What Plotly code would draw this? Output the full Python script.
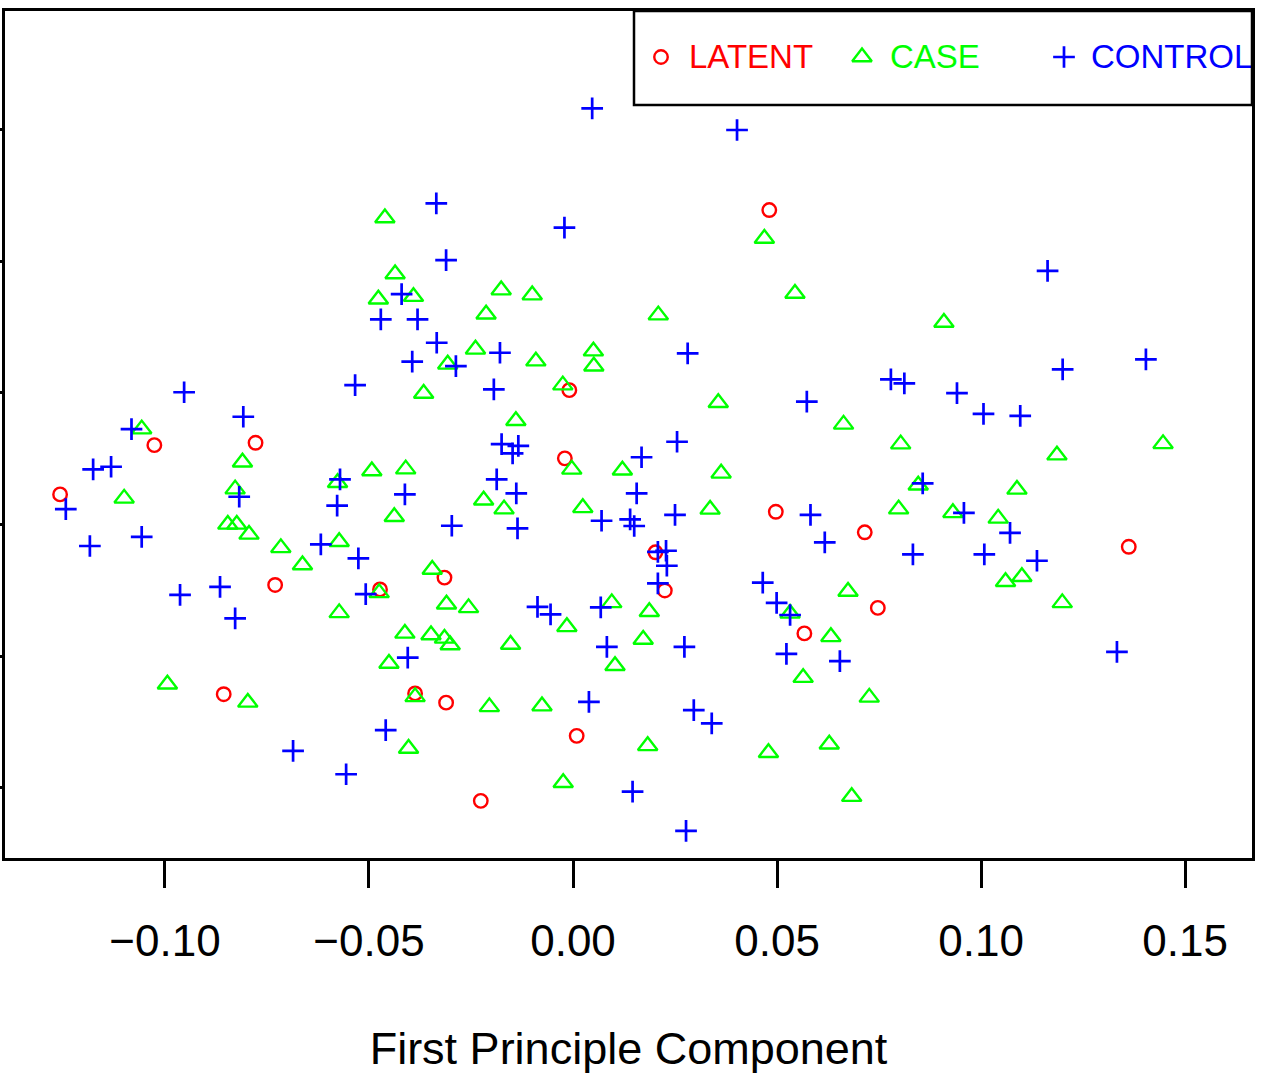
import plotly.graph_objects as go

# ---------------- data (first / second principal component) ----------------
latent_x = [0.0481, -0.0009, -0.1026, -0.0778, -0.1257, -0.0020, 0.0497, 0.0715,
            0.1362, 0.0202, -0.0315, -0.0473, -0.0730, 0.0225, 0.0567, 0.0747,
            -0.0856, -0.0387, -0.0311, 0.0009, -0.0226, -0.0311]
latent_y = [0.0694, 0.0010, -0.0199, -0.0190, -0.0386, -0.0249, -0.0452, -0.0530,
            -0.0585, -0.0606, -0.0702, -0.0747, -0.0730, -0.0751, -0.0914, -0.0817,
            -0.1145, -0.1142, -0.1177, -0.1303, -0.1550, -0.1798]

case_x = [-0.0461, -0.0436, -0.0477, -0.0391, -0.0176, -0.0100, 0.0469, 0.0544,
          -0.0213, 0.0209, -0.0239, -0.0307, -0.0091, 0.0050, 0.0051, -0.0366,
          -0.0025, 0.0356, 0.0663, -0.0140, 0.0909, -0.1057, -0.0810, -0.1100,
          -0.0828, -0.0577, -0.0493, -0.0410, -0.0438, -0.0846, -0.0824, -0.0794,
          -0.0716, -0.0663, -0.0573, -0.0345, -0.0003, 0.0121, 0.0363, -0.0219,
          -0.0169, 0.0024, 0.0336, 0.0803, 0.1186, 0.1446, 0.0846, 0.1088,
          0.0798, 0.0931, 0.1042, 0.1060, 0.1100, 0.0674, 0.1199, -0.0475,
          -0.0573, -0.0412, -0.0348, -0.0315, -0.0301, -0.0451, -0.0310, -0.0256,
          0.0095, 0.0187, -0.0015, -0.0153, 0.0172, 0.0103, 0.0532, 0.0632,
          0.0564, 0.0726, -0.0994, -0.0797, -0.0387, -0.0205, -0.0076, -0.0403,
          0.0183, 0.0479, 0.0628, -0.0024, 0.0683]
case_y = [0.0664, 0.0451, 0.0355, 0.0365, 0.0390, 0.0371, 0.0586, 0.0377,
          0.0298, 0.0295, 0.0165, 0.0108, 0.0120, 0.0158, 0.0101, -0.0003,
          0.0029, -0.0038, -0.0120, -0.0106, 0.0267, -0.0138, -0.0264, -0.0401,
          -0.0366, -0.0342, -0.0297, -0.0290, -0.0471, -0.0500, -0.0500, -0.0538,
          -0.0589, -0.0654, -0.0566, -0.0671, -0.0291, -0.0294, -0.0306, -0.0408,
          -0.0442, -0.0437, -0.0443, -0.0195, -0.0237, -0.0194, -0.0351, -0.0367,
          -0.0442, -0.0456, -0.0477, -0.0718, -0.0699, -0.0755, -0.0798, -0.0760,
          -0.0836, -0.0914, -0.0920, -0.0933, -0.0958, -0.1028, -0.0803, -0.0817,
          -0.0798, -0.0832, -0.0889, -0.0956, -0.0937, -0.1037, -0.0838, -0.0927,
          -0.1082, -0.1157, -0.1107, -0.1176, -0.1155, -0.1193, -0.1190, -0.1351,
          -0.1341, -0.1367, -0.1335, -0.1481, -0.1534]

control_x = [0.0047, 0.0402, -0.0335, -0.0021, -0.0311, 0.1163, -0.0420, -0.0471,
             -0.0381, -0.0334, -0.0394, -0.0287, -0.0179, -0.0534, -0.0194, 0.0281,
             -0.0953, -0.0808, -0.1082, -0.1176, -0.1132, -0.1243, -0.0818, -0.0571,
             -0.0578, -0.0412, -0.1184, -0.1057, -0.0618, -0.0526, -0.0963, -0.0865,
             -0.0508, -0.0828, -0.0405, -0.0459, -0.0686, -0.0556, 0.0573, -0.0175,
             -0.0134, -0.0148, 0.0255, 0.0168, -0.0187, -0.0139, 0.0156, -0.0297,
             -0.0136, 0.0070, 0.0140, 0.0150, 0.0250, 0.0582, 0.0617, 0.0208,
             0.0228, 0.0230, 0.0208, 0.0465, 0.0499, 0.0532, 0.0523, 0.0654,
             -0.0087, -0.0055, 0.0068, 0.0083, 0.0273, 0.0039, 0.0296, 0.0340,
             0.0146, 0.0277, 0.0779, 0.0812, 0.1200, 0.1404, 0.0941, 0.1006,
             0.1096, 0.0857, 0.0958, 0.1071, 0.0833, 0.1008, 0.1137, 0.1333]
control_y = [0.1080, 0.0998, 0.0719, 0.0627, 0.0504, 0.0463, 0.0375, 0.0279,
             0.0279, 0.0190, 0.0118, 0.0101, 0.0152, 0.0029, 0.0013, 0.0150,
             0.0002, -0.0091, -0.0138, -0.0291, -0.0281, -0.0442, -0.0395, -0.0329,
             -0.0429, -0.0386, -0.0582, -0.0547, -0.0576, -0.0629, -0.0768, -0.0737,
             -0.0765, -0.0857, -0.1006, -0.1281, -0.1360, -0.1449, -0.0034, -0.0195,
             -0.0202, -0.0230, -0.0186, -0.0245, -0.0329, -0.0382, -0.0382, -0.0505,
             -0.0515, -0.0486, -0.0481, -0.0506, -0.0464, -0.0464, -0.0568, -0.0604,
             -0.0600, -0.0657, -0.0724, -0.0721, -0.0798, -0.0844, -0.0992, -0.1019,
             -0.0813, -0.0842, -0.0815, -0.0965, -0.0965, -0.1174, -0.1205, -0.1256,
             -0.1515, -0.1664, 0.0051, 0.0036, 0.0089, 0.0127, -0.0001, -0.0080,
             -0.0088, -0.0344, -0.0456, -0.0532, -0.0614, -0.0614, -0.0638, -0.0984]

x_ticks = [-0.10, -0.05, 0.00, 0.05, 0.10, 0.15]
x_ticktext = ["\u22120.10", "\u22120.05", "0.00", "0.05", "0.10", "0.15"]
y_ticks = [-0.15, -0.10, -0.05, 0.00, 0.05, 0.10]
group_names = ["LATENT", "CASE", "CONTROL"]

# ---------------- layout / style ----------------
W, H = 1264, 1080
L, R, T, B = 5, 12, 11, 222
X_RANGE = [-0.1392, 0.1664]
Y_RANGE = [-0.1767, 0.1450]
FONT = "Liberation Sans, Arial, Helvetica, sans-serif"
RED, GREEN, BLUE = "#FF0000", "#00FF00", "#0000FF"

pw, ph = W - L - R, H - T - B


def px2x(px):
    return X_RANGE[0] + (px - L) / pw * (X_RANGE[1] - X_RANGE[0])


def py2y(py):
    return Y_RANGE[1] - (py - T) / ph * (Y_RANGE[1] - Y_RANGE[0])


circle = dict(symbol="circle-open", size=13.5, color=RED, line=dict(color=RED, width=2.4))
tri = dict(symbol="triangle-up-open", size=17, color=GREEN, line=dict(color=GREEN, width=2.4))
plus = dict(symbol="cross-thin-open", size=15.5, color=BLUE, line=dict(color=BLUE, width=2.7))

fig = go.Figure()
fig.add_trace(go.Scatter(x=latent_x, y=latent_y, mode="markers", marker=circle,
                         name=group_names[0], showlegend=False, cliponaxis=True))
fig.add_trace(go.Scatter(x=case_x, y=case_y, mode="markers", marker=tri,
                         name=group_names[1], showlegend=False, cliponaxis=True))
fig.add_trace(go.Scatter(x=control_x, y=control_y, mode="markers", marker=plus,
                         name=group_names[2], showlegend=False, cliponaxis=True))

# ---- legend drawn like base-R legend (clipped at the plot border) ----
leg_marker_y = py2y(57)
leg_text_y = py2y(60)
leg_items = [(661, 689, circle, RED), (862, 890, tri, GREEN), (1064, 1091, plus, BLUE)]
for (mx, tx, mk, col), name in zip(leg_items, group_names):
    fig.add_trace(go.Scatter(x=[px2x(mx)], y=[leg_marker_y], mode="markers", marker=mk,
                             showlegend=False, hoverinfo="skip", cliponaxis=True))
    fig.add_trace(go.Scatter(x=[px2x(tx)], y=[leg_text_y], mode="text", text=[name],
                             textposition="middle right",
                             textfont=dict(family=FONT, size=33, color=col),
                             showlegend=False, hoverinfo="skip", cliponaxis=True))

fig.add_shape(type="rect", xref="paper", yref="paper",
              x0=(634 - L) / pw, x1=1.0, y0=(T + ph - 105) / ph, y1=1.0,
              line=dict(color="black", width=2.5), fillcolor="rgba(0,0,0,0)")

fig.update_layout(
    width=W, height=H,
    margin=dict(l=L, r=R, t=T, b=B, pad=0, autoexpand=False),
    paper_bgcolor="white", plot_bgcolor="white",
    font=dict(family=FONT, color="black"),
    showlegend=False,
)
fig.update_xaxes(
    range=X_RANGE, showgrid=False, zeroline=False, automargin=False,
    showline=True, mirror=True, linecolor="black", linewidth=3,
    tickmode="array", tickvals=x_ticks, ticktext=x_ticktext,
    ticks="outside", ticklen=27, tickwidth=2.5, tickcolor="black",
    tickfont=dict(family=FONT, size=44, color="black"),
    ticklabelstandoff=15,
    title=dict(text="First Principle Component", standoff=69,
               font=dict(family=FONT, size=45, color="black")),
)
fig.update_yaxes(
    range=Y_RANGE, showgrid=False, zeroline=False, automargin=False,
    showline=True, mirror=True, linecolor="black", linewidth=3,
    tickmode="array", tickvals=y_ticks, showticklabels=False,
    ticks="outside", ticklen=27, tickwidth=2.5, tickcolor="black",
)

fig.write_html("out.html", config={"displayModeBar": False},
               post_script="document.body.style.margin='0';")
